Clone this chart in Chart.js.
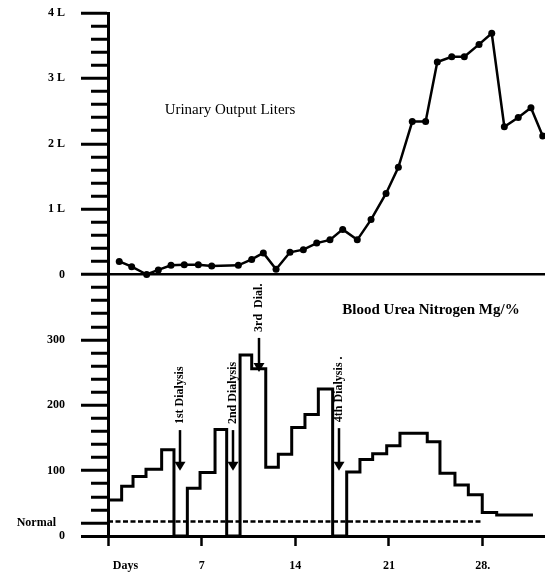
<!DOCTYPE html>
<html>
<head>
<meta charset="utf-8">
<script src="https://cdn.jsdelivr.net/npm/chart.js@4.4.1/dist/chart.umd.min.js"></script>
<style>
  html, body { margin: 0; padding: 0; background: #fff; }
  #wrap { width: 545px; height: 575px; }
</style>
</head>
<body>
<div id="wrap"><canvas id="chart"></canvas></div>
<script>
(function () {
    "use strict";

    // Urinary output (litres per day), upper panel
    const urineDays = [0.84, 1.77, 2.89, 3.76, 4.71, 5.70, 6.75, 7.75, 9.74, 10.74, 11.61, 12.56, 13.60, 14.60, 15.60, 16.59,
        17.54, 18.63, 19.66, 20.78, 21.70, 22.74, 23.74, 24.61, 25.69, 26.63, 27.73, 28.68, 29.62, 30.66, 31.61, 32.49];
    const urineLiters = [0.2, 0.12, 0, 0.07, 0.14, 0.15, 0.15, 0.13, 0.14, 0.23, 0.33, 0.08, 0.34, 0.38, 0.48, 0.53,
        0.69, 0.53, 0.84, 1.24, 1.64, 2.34, 2.34, 3.25, 3.33, 3.33, 3.52, 3.69, 2.26, 2.40, 2.55, 2.12];

    // Blood urea nitrogen (mg/%), lower panel: level starts at each day
    const bunDays = [0, 1.02, 1.87, 2.84, 4.01, 4.93, 5.93, 6.88, 8.0, 8.87, 9.87, 10.74, 11.79, 12.73, 13.73, 14.72,
        15.72, 16.79, 17.84, 18.83, 19.78, 20.83, 21.82, 23.86, 24.81, 25.93, 26.93, 27.97, 29.05, 31.76];
    const bunLevels = [55, 76, 91, 102, 132, 0, 73, 97, 163, 0, 277, 256, 105, 125, 166, 186,
        225, 0, 98, 117, 126, 138, 157, 144, 96, 78, 63, 36, 32, 32];
    const normalBun = 22;
    const normalDays = [0, 28];

    // Dialysis arrows
    const dialysisDays = [5.38, 9.34, 11.25, 17.26];
    const dialysisTop = [162, 162, 303, 165];
    const dialysisTip = [100, 100, 251, 100];
    const dialysisLabels = ['1st Dialysis', '2nd Dialysis', '3rd  Dial.', '4th Dialysis .'];

    const dayTicks = [0, 1.3, 7, 14, 21, 28];
    const dayTickLabels = ['', 'Days', '7', '14', '21', '28.'];

    const urineTitle = 'Urinary Output Liters';
    const bunTitle = 'Blood Urea Nitrogen Mg/%';

    const FONT = '"Liberation Serif", "DejaVu Serif", serif';
    Chart.defaults.font.family = FONT;
    Chart.defaults.color = '#000';

    function isMajor(v) {
        return v % 100 === 0 || Math.abs(v - normalBun) < 10;
    }

    const notes = {
        id: 'notes',
        afterDatasetsDraw(chart) {
            const { ctx, scales } = chart;
            const x = scales.x, y = scales.y, yU = scales.yU;
            ctx.save();
            ctx.fillStyle = '#000';
            ctx.strokeStyle = '#000';
            ctx.textAlign = 'center';
            ctx.textBaseline = 'middle';

            ctx.font = '15px ' + FONT;
            ctx.fillText(urineTitle, x.getPixelForValue(9.12), yU.getPixelForValue(2.51));
            ctx.font = 'bold 15px ' + FONT;
            ctx.fillText(bunTitle, x.getPixelForValue(24.14), y.getPixelForValue(345));

            ctx.font = 'bold 12px ' + FONT;
            dialysisDays.forEach((d, i) => {
                const px = Math.round(x.getPixelForValue(d));
                const top = y.getPixelForValue(dialysisTop[i]);
                const tip = y.getPixelForValue(dialysisTip[i]);
                ctx.lineWidth = 2.5;
                ctx.beginPath();
                ctx.moveTo(px, top);
                ctx.lineTo(px, tip - 6);
                ctx.stroke();
                ctx.beginPath();
                ctx.moveTo(px - 5.5, tip - 9);
                ctx.lineTo(px + 5.5, tip - 9);
                ctx.lineTo(px, tip);
                ctx.closePath();
                ctx.fill();
                ctx.save();
                ctx.translate(px, top - 6);
                ctx.rotate(-Math.PI / 2);
                ctx.textAlign = 'left';
                ctx.fillText(dialysisLabels[i], 0, 0);
                ctx.restore();
            });
            ctx.restore();
        }
    };

    const ctx = document.getElementById('chart').getContext('2d');
    new Chart(ctx, {
        type: 'line',
        data: {
            datasets: [
                {
                    label: 'Urinary output',
                    yAxisID: 'yU',
                    data: urineDays.map((d, i) => ({ x: d, y: urineLiters[i] })),
                    borderColor: '#000',
                    backgroundColor: '#000',
                    borderWidth: 2.5,
                    pointRadius: 3.5,
                    pointBorderWidth: 0,
                    tension: 0
                },
                {
                    label: 'BUN',
                    yAxisID: 'y',
                    data: bunDays.map((d, i) => ({ x: d, y: bunLevels[i] })),
                    stepped: 'before',
                    borderColor: '#000',
                    borderWidth: 3,
                    pointRadius: 0
                },
                {
                    label: 'Normal',
                    yAxisID: 'y',
                    data: normalDays.map(d => ({ x: d, y: normalBun })),
                    borderColor: '#000',
                    borderWidth: 2.5,
                    borderDash: [5, 2.5],
                    pointRadius: 0
                }
            ]
        },
        options: {
            responsive: true,
            maintainAspectRatio: false,
            animation: false,
            devicePixelRatio: 1,
            layout: { autoPadding: false, padding: { top: 13, right: 0, left: 0, bottom: 0 } },
            plugins: {
                legend: { display: false },
                tooltip: { enabled: false }
            },
            scales: {
                x: {
                    type: 'linear',
                    min: 0,
                    max: 32.66,
                    afterBuildTicks: s => { s.ticks = dayTicks.map(v => ({ value: v })); },
                    afterFit: s => { s.height = 39; s.paddingLeft = 0; s.paddingRight = 0; },
                    border: { display: true, color: '#000', width: 3 },
                    grid: {
                        drawOnChartArea: false,
                        drawTicks: true,
                        tickLength: 10,
                        tickWidth: 2.5,
                        tickColor: c => (c.tick && c.tick.value === 1.3 ? 'rgba(0,0,0,0)' : '#000')
                    },
                    ticks: {
                        autoSkip: false,
                        maxRotation: 0,
                        padding: 13,
                        font: { size: 12, weight: 'bold' },
                        callback: v => dayTickLabels[dayTicks.indexOf(v)]
                    }
                },
                y: {
                    min: 0,
                    max: 800,
                    afterFit: s => { s.width = 108; s.paddingTop = 0; s.paddingBottom = 0; },
                    border: { display: true, color: '#000', width: 3 },
                    grid: {
                        drawTicks: true,
                        tickLength: 27,
                        tickWidth: 3,
                        tickColor: '#000',
                        tickBorderDash: c => (c.tick && isMajor(c.tick.value) ? [] : [0, 10, 17, 100]),
                        color: c => (c.tick && (c.tick.value === 0 || c.tick.value === 400) ? '#000' : 'rgba(0,0,0,0)'),
                        lineWidth: c => (c.tick && c.tick.value === 0 ? 3 : 2.5)
                    },
                    ticks: {
                        stepSize: 20,
                        autoSkip: false,
                        padding: 16,
                        font: { size: 12, weight: 'bold' },
                        callback: v => {
                            if (Math.abs(v - normalBun) < 10) return 'Normal   ';
                            if (v >= 400 && v % 100 === 0) {
                                const l = (v - 400) / 100;
                                return l === 0 ? '0' : l + ' L';
                            }
                            if (v % 100 === 0) return String(v);
                            return '';
                        }
                    }
                },
                yU: {
                    position: 'left',
                    display: false,
                    min: -4,
                    max: 4
                }
            }
        },
        plugins: [notes]
    });
})();
</script>
</body>
</html>
